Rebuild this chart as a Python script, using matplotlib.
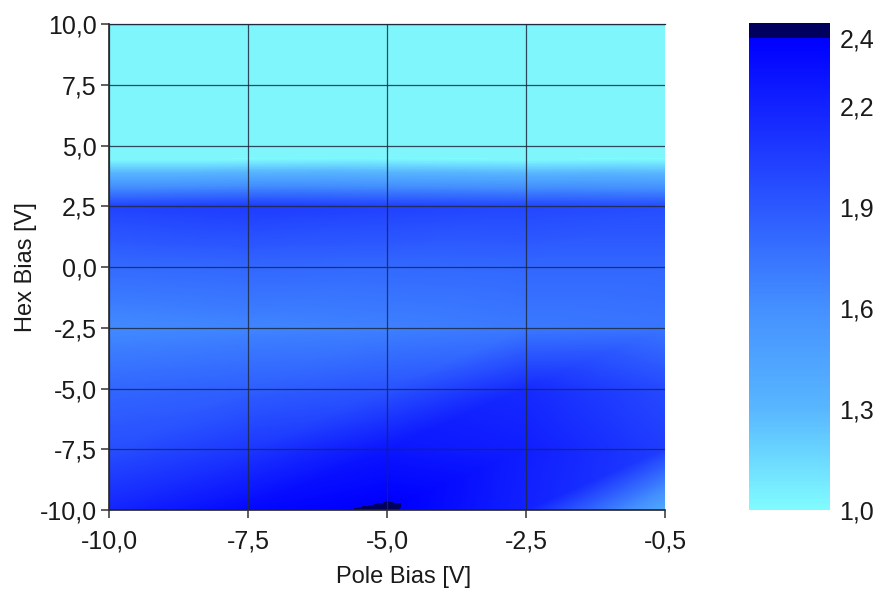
import numpy as np
import matplotlib.pyplot as plt
import matplotlib.tri as mtri
from matplotlib.colors import LinearSegmentedColormap, Normalize

plt.rcParams['font.family'] = ['Liberation Sans', 'DejaVu Sans']

# measurement grid
pole_bias = [-10.0, -7.5, -5.0, -2.5, -0.5]
hex_bias = [-10.0, -7.5, -5.0, -2.5, 0.0, 2.5, 5.0, 7.5, 10.0]

# one row per hex bias value (bottom to top), columns follow pole_bias
signal = [
    [2.18, 2.35, 2.42, 2.20, 1.40],
    [1.95, 2.08, 2.27, 2.22, 2.05],
    [1.82, 1.86, 1.92, 2.15, 1.98],
    [1.63, 1.66, 1.68, 1.72, 1.74],
    [1.80, 1.82, 1.81, 1.82, 1.82],
    [2.02, 2.06, 2.03, 2.00, 1.97],
    [0.72, 0.72, 0.74, 0.72, 0.74],
    [0.62, 0.62, 0.62, 0.62, 0.62],
    [0.60, 0.60, 0.60, 0.60, 0.60],
]

cbar_ticks = [1.0, 1.3, 1.6, 1.9, 2.2, 2.4]
vmin, vmax = 1.0, 2.4


def comma(v):
    return f"{v:.1f}".replace('.', ',')


cmap = LinearSegmentedColormap.from_list('cyanblue', [
    (0.0, '#80fcff'),
    (0.214, '#58b6ff'),
    (0.429, '#4490ff'),
    (0.643, '#2c58ff'),
    (0.857, '#1222ff'),
    (1.0, '#0000ff'),
])
cmap.set_under('#7ff6fc')
cmap.set_over('#00005e')
norm = Normalize(vmin=vmin, vmax=vmax)

# pole bias values are plotted on evenly spaced columns
nx, ny = len(pole_bias), len(hex_bias)
xi = np.arange(nx)
X, Y = np.meshgrid(xi, hex_bias)
Z = np.array(signal)

# split every grid cell along its lower-left / upper-right diagonal
triangles = []
for j in range(ny - 1):
    for i in range(nx - 1):
        ll = j * nx + i
        lr = ll + 1
        ul = ll + nx
        ur = ul + 1
        triangles.append([ll, lr, ur])
        triangles.append([ll, ur, ul])
tri = mtri.Triangulation(X.ravel().astype(float), Y.ravel(), triangles)
interp = mtri.LinearTriInterpolator(tri, Z.ravel())

gx = np.linspace(0, nx - 1, 700)
gy = np.linspace(hex_bias[0], hex_bias[-1], 800)
GX, GY = np.meshgrid(gx, gy)
GZ = interp(GX, GY)

fig = plt.figure(figsize=(8.8, 6.04), dpi=100)
ax = fig.add_axes([0.1239, 0.1556, 0.6318, 0.8046])
cax = fig.add_axes([0.851, 0.1556, 0.092, 0.806])

im = ax.imshow(GZ, origin='lower', extent=(0, nx - 1, hex_bias[0], hex_bias[-1]),
               aspect='auto', cmap=cmap, norm=norm, interpolation='nearest', zorder=0)

ax.set_xlim(0, nx - 1)
ax.set_ylim(hex_bias[0], hex_bias[-1])
ax.set_xticks(xi, [comma(v) for v in pole_bias])
ax.set_yticks(hex_bias, [comma(v) for v in hex_bias])
ax.tick_params(direction='out', length=6, width=1.1, color='#333333',
               labelsize=18, labelcolor='#1a1a1a')
ax.tick_params(axis='x', pad=8)
ax.tick_params(axis='y', pad=3)
ax.grid(True, color='#1e2a40', linewidth=0.9, alpha=0.85)
ax.get_xgridlines()[-1].set_visible(False)
ax.get_ygridlines()[0].set_visible(False)
ax.set_axisbelow(False)
for side in ['left', 'bottom']:
    ax.spines[side].set_color('#222222')
    ax.spines[side].set_linewidth(1.2)
ax.spines['top'].set_color('#1e2a40')
ax.spines['top'].set_linewidth(0.9)
ax.spines['right'].set_visible(False)

ax.set_xlabel('Pole Bias [V]', fontsize=17, color='#1a1a1a', labelpad=10)
ax.xaxis.set_label_coords(0.529, -0.115)
ax.set_ylabel('Hex Bias [V]', fontsize=17, color='#1a1a1a', labelpad=2)

cbar = fig.colorbar(im, cax=cax, extend='max', extendrect=True, extendfrac=0.032)
cbar.set_ticks(cbar_ticks, labels=[comma(v) for v in cbar_ticks])
cbar.ax.tick_params(length=0, labelsize=18, labelcolor='#1a1a1a', pad=7)
cbar.outline.set_visible(False)

fig.savefig('out.png', dpi=100)
